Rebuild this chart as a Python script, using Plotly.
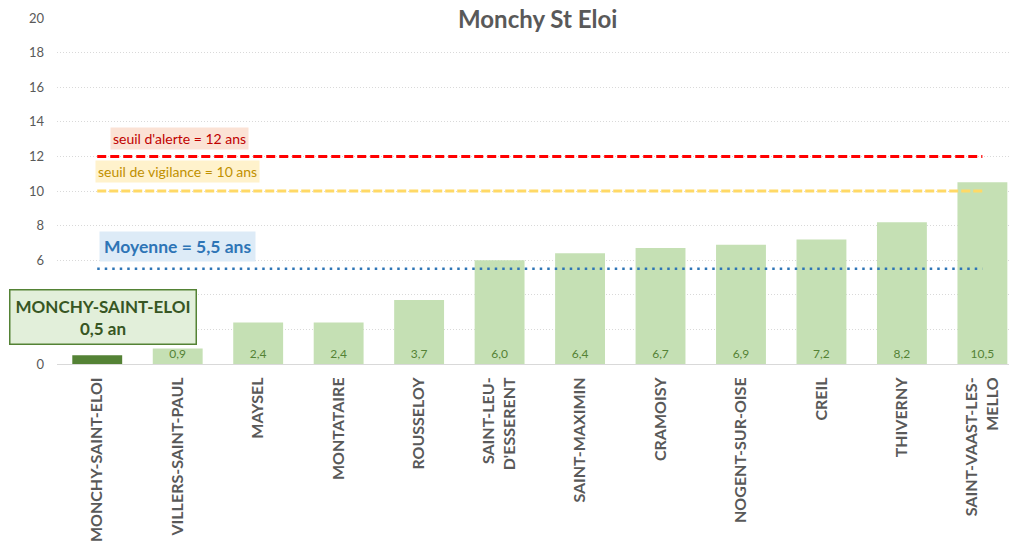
import plotly.graph_objects as go

communes = ["MONCHY-SAINT-ELOI", "VILLERS-SAINT-PAUL", "MAYSEL", "MONTATAIRE", "ROUSSELOY",
            "SAINT-LEU-<br>D'ESSERENT", "SAINT-MAXIMIN", "CRAMOISY", "NOGENT-SUR-OISE", "CREIL",
            "THIVERNY", "SAINT-VAAST-LES-<br>MELLO"]
values = [0.5, 0.9, 2.4, 2.4, 3.7, 6.0, 6.4, 6.7, 6.9, 7.2, 8.2, 10.5]
labels = ["" if i == 0 else f"{v:.1f}".replace(".", ",") for i, v in enumerate(values)]
seuil_alerte = 12
seuil_vigilance = 10
moyenne = 5.5

FONT = "Lato, 'Open Sans', sans-serif"
bar_colors = ["#548235"] + ["#C5E0B4"] * (len(values) - 1)

fig = go.Figure()
fig.add_trace(go.Bar(
    x=communes, y=values, marker=dict(color=bar_colors, line=dict(width=0)),
    width=0.62, text=labels, textposition="inside", insidetextanchor="start",
    textangle=0, constraintext="none", cliponaxis=False,
    textfont=dict(color="#548235", size=12, family=FONT),
    hoverinfo="skip", showlegend=False))

fig.add_trace(go.Scatter(x=communes, y=[seuil_alerte] * len(communes), mode="lines",
                         line=dict(color="#FF0000", width=3, dash="9px,4px"), showlegend=False, hoverinfo="skip"))
fig.add_trace(go.Scatter(x=communes, y=[seuil_vigilance] * len(communes), mode="lines",
                         line=dict(color="#FFD966", width=3, dash="9px,3px"), showlegend=False, hoverinfo="skip"))
fig.add_trace(go.Scatter(x=communes, y=[moyenne] * len(communes), mode="lines",
                         line=dict(color="#2E75B6", width=2.5, dash="2.5px,5px"), showlegend=False, hoverinfo="skip"))

fig.add_annotation(x=1.02, y=13.03, xref="x", yref="y", text="seuil d'alerte = 12 ans", showarrow=False,
                   font=dict(color="#C00000", size=14, family=FONT), bgcolor="#FBE2D5", borderpad=2)
fig.add_annotation(x=1.0, y=11.1, xref="x", yref="y", text="seuil de vigilance = 10 ans", showarrow=False,
                   font=dict(color="#BF9000", size=14, family=FONT), bgcolor="#FFF2CC", borderpad=2)
fig.add_annotation(x=1.0, y=6.82, xref="x", yref="y", text="<b>Moyenne = 5,5 ans</b>", showarrow=False,
                   font=dict(color="#2E75B6", size=17.5, family=FONT), bgcolor="#DDEBF7", borderpad=4)
fig.add_annotation(x=0.07, y=2.69, xref="x", yref="y", text="<b>MONCHY-SAINT-ELOI<br>0,5 an</b>", showarrow=False,
                   font=dict(color="#375623", size=17, family=FONT), bgcolor="#E2EFDA",
                   bordercolor="#548235", borderwidth=1.5, borderpad=5)

fig.add_annotation(x=0.5, y=1.0, xref="paper", yref="paper", yanchor="middle", text="<b>Monchy St Eloi</b>",
                   showarrow=False, font=dict(color="#595959", size=24, family=FONT))

fig.update_layout(
    width=1009, height=536, margin=dict(l=49, r=0, t=10, b=180),
    plot_bgcolor="white", paper_bgcolor="white",
    font=dict(family=FONT, color="#595959"),
    xaxis=dict(range=[-0.5, 11.43], tickangle=-90, tickfont=dict(size=16, color="#595959", family=FONT),
               showline=True, linecolor="#D9D9D9", linewidth=1, showgrid=False, ticks="",
               ticklabelstandoff=6, automargin=False,
               tickvals=communes, ticktext=["<b>" + c + "</b>" for c in communes]),
    yaxis=dict(range=[0, 20], dtick=2, showgrid=True, gridcolor="#D9D9D9", griddash="1px,2px",
               tickfont=dict(size=13, color="#595959", family=FONT), zeroline=False, ticks="",
               ticklabelstandoff=12, automargin=False),
)
fig.write_html("out.html")
